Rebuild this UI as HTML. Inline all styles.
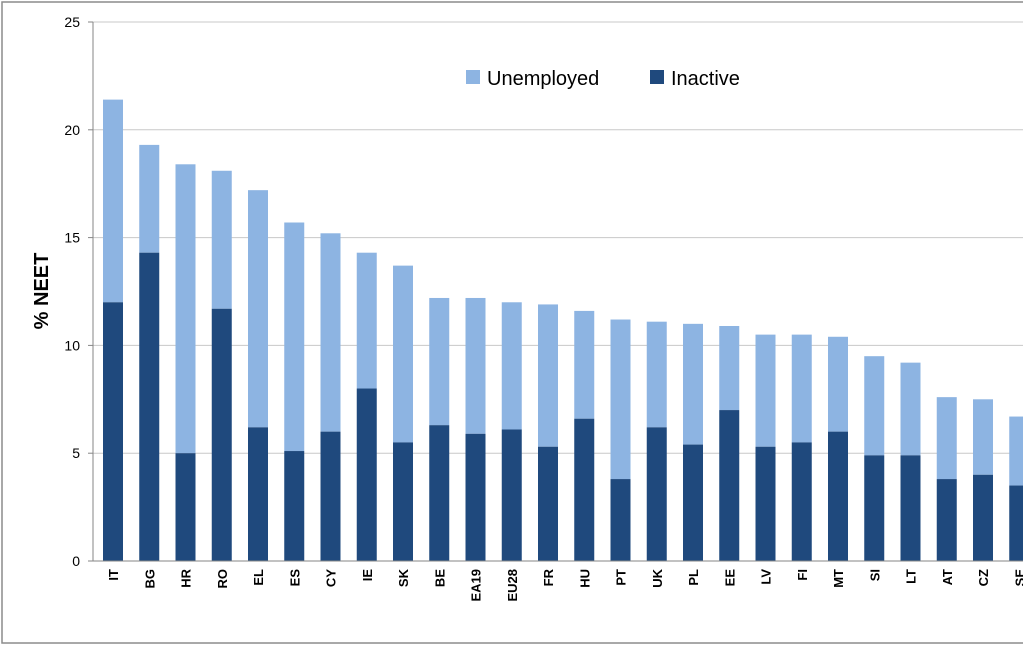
<!DOCTYPE html>
<html><head><meta charset="utf-8"><style>
html,body{margin:0;padding:0;background:#fff;}
svg{display:block;font-family:"Liberation Sans",sans-serif;}
</style></head><body>
<svg width="1023" height="647">
<rect x="2" y="2" width="1030" height="641" fill="#fff" stroke="#8c8c8c" stroke-width="1.5"/>
<g id="grid"></g><g id="bars"></g><g id="axes"></g>
<text x="48" y="291" transform="rotate(-90 48 291)" text-anchor="middle" font-size="20" font-weight="bold" fill="#000">% NEET</text>
<g>
<rect x="466" y="70" width="14" height="14" fill="#8db4e2"/>
<text x="487" y="85" font-size="20" fill="#000">Unemployed</text>
<rect x="650" y="70" width="14" height="14" fill="#1f497d"/>
<text x="671" y="85" font-size="20" fill="#000">Inactive</text>
</g>
</svg>
<script>
const categories=["IT","BG","HR","RO","EL","ES","CY","IE","SK","BE","EA19","EU28","FR","HU","PT","UK","PL","EE","LV","FI","MT","SI","LT","AT","CZ","SE"];
const inactive=[12.0,14.3,5.0,11.7,6.2,5.1,6.0,8.0,5.5,6.3,5.9,6.1,5.3,6.6,3.8,6.2,5.4,7.0,5.3,5.5,6.0,4.9,4.9,3.8,4.0,3.5];
const totals=[21.4,19.3,18.4,18.1,17.2,15.7,15.2,14.3,13.7,12.2,12.2,12.0,11.9,11.6,11.2,11.1,11.0,10.9,10.5,10.5,10.4,9.5,9.2,7.6,7.5,6.7];
const yTicks=[0,5,10,15,20,25];
const NS="http://www.w3.org/2000/svg";
const y=v=>561-v*21.56, x=i=>113+i*36.25, bw=20;
function mk(t,a,p){const e=document.createElementNS(NS,t);for(const k in a)e.setAttribute(k,a[k]);p.appendChild(e);return e;}
const grid=document.getElementById('grid'),bars=document.getElementById('bars'),axes=document.getElementById('axes');
yTicks.forEach(t=>{
 if(t>0){const g=mk('line',{x1:93,x2:1023,y1:y(t),y2:y(t),stroke:'#c8c8c8','stroke-width':1},grid);
 
 }
 const tk=mk('line',{x1:88,x2:93,y1:y(t),y2:y(t),stroke:'#868686'},axes);
 
 
 const l=mk('text',{x:80,y:y(t)+5,'text-anchor':'end','font-size':14,fill:'#000'},axes);l.textContent=t;
 
 
});
const ya=mk('line',{x1:93,x2:93,y1:y(25),y2:y(0),stroke:'#868686'},axes);


const xa=mk('line',{x1:93,x2:1023,y1:y(0),y2:y(0),stroke:'#868686'},axes);


categories.forEach((c,i)=>{
 const cx=x(i);
 const u=mk('rect',{x:cx-bw/2,y:y(totals[i]),width:bw,height:y(inactive[i])-y(totals[i]),fill:'#8db4e2'},bars);
 
 
 const d=mk('rect',{x:cx-bw/2,y:y(inactive[i]),width:bw,height:y(0)-y(inactive[i]),fill:'#1f497d'},bars);
 
 
 const t=mk('text',{x:cx+5,y:569,transform:`rotate(-90 ${cx+5} 569)`,'text-anchor':'end','font-size':13,'font-weight':'bold',fill:'#000'},axes);
 t.textContent=c;
 
 
});
</script>
</body></html>
